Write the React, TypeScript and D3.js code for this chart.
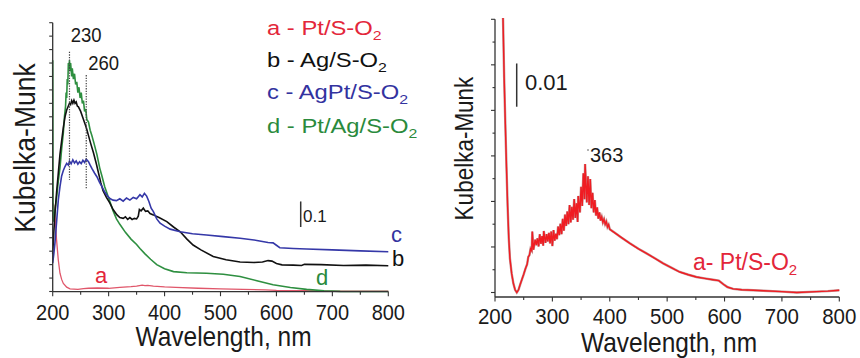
import React from "react";
import * as d3 from "d3";

type P = [number, number];

// ---------- Left panel data (Kubelka-Munk, a.u.) ----------
const seriesA: P[] = [
  [200, 0.33], [202, 0.32], [204, 0.28], [207, 0.19], [210, 0.117], [213, 0.068], [216, 0.045],
  [219, 0.03], [225, 0.016], [231, 0.01], [245, 0.008], [255, 0.011], [264, 0.012], [280, 0.013],
  [300, 0.012], [320, 0.015], [340, 0.018], [350, 0.02], [360, 0.024], [365, 0.022], [370, 0.023],
  [380, 0.02], [400, 0.017], [420, 0.015], [460, 0.012], [500, 0.01], [540, 0.008], [580, 0.006],
  [600, 0.004], [650, 0.003], [700, 0.001], [750, 0.001], [800, 0.001],
];

const seriesB: P[] = [
  [200, 0.14], [202, 0.22], [204, 0.29], [207, 0.37], [210, 0.44], [213, 0.51], [216, 0.56],
  [219, 0.61], [222, 0.65], [225, 0.675], [228, 0.69], [230, 0.7], [232, 0.695], [234, 0.71],
  [236, 0.7], [238, 0.712], [240, 0.7], [242, 0.705], [244, 0.69], [246, 0.687], [250, 0.67],
  [255, 0.64], [260, 0.61], [264, 0.58], [268, 0.55], [273, 0.515], [278, 0.475], [282, 0.44],
  [286, 0.405], [290, 0.375], [296, 0.35], [302, 0.33], [308, 0.305], [315, 0.285], [320, 0.275],
  [326, 0.272], [330, 0.278], [334, 0.268], [338, 0.275], [342, 0.268], [346, 0.272], [350, 0.27],
  [353, 0.28], [355, 0.305], [358, 0.3], [362, 0.31], [366, 0.298], [370, 0.3], [374, 0.29],
  [380, 0.285], [390, 0.275], [404, 0.26], [416, 0.24], [428, 0.222], [440, 0.195], [451, 0.173],
  [465, 0.155], [487, 0.13], [510, 0.118], [535, 0.11], [560, 0.108], [575, 0.11], [585, 0.115],
  [592, 0.113], [600, 0.104], [610, 0.099], [630, 0.098], [645, 0.097], [650, 0.101], [680, 0.1],
  [720, 0.097], [760, 0.098], [800, 0.096],
];

const seriesC: P[] = [
  [200, 0.105], [202, 0.14], [204, 0.18], [207, 0.26], [210, 0.34], [213, 0.39], [216, 0.43],
  [219, 0.45], [222, 0.465], [225, 0.477], [228, 0.47], [230, 0.485], [233, 0.475], [236, 0.49],
  [239, 0.478], [242, 0.486], [245, 0.474], [248, 0.483], [251, 0.476], [254, 0.488], [257, 0.48],
  [260, 0.492], [264, 0.483], [267, 0.47], [270, 0.458], [275, 0.44], [279, 0.427], [284, 0.405],
  [288, 0.39], [293, 0.37], [298, 0.355], [303, 0.345], [308, 0.34], [314, 0.338], [320, 0.345],
  [326, 0.336], [332, 0.348], [338, 0.34], [344, 0.35], [350, 0.345], [356, 0.36], [360, 0.352],
  [364, 0.365], [368, 0.355], [372, 0.335], [376, 0.31], [380, 0.297], [386, 0.27], [392, 0.254],
  [400, 0.243], [410, 0.232], [428, 0.222], [450, 0.215], [475, 0.21], [505, 0.204], [535, 0.198],
  [565, 0.19], [585, 0.182], [594, 0.181], [600, 0.172], [606, 0.163], [630, 0.16], [654, 0.158],
  [700, 0.155], [750, 0.151], [800, 0.148],
];

const seriesD: P[] = [
  [200, 0.86], [200.6, 0.3], [202, 0.26], [204, 0.3], [207, 0.35], [210, 0.41], [213, 0.46],
  [216, 0.53], [219, 0.59], [221, 0.65], [223, 0.69], [224, 0.74], [225, 0.72], [226, 0.79],
  [227, 0.77], [228, 0.85], [229, 0.83], [230, 0.86], [231, 0.82], [232, 0.85], [234, 0.8],
  [235, 0.83], [237, 0.79], [239, 0.81], [241, 0.77], [243, 0.78], [245, 0.74], [247, 0.76],
  [249, 0.72], [251, 0.74], [253, 0.7], [255, 0.71], [257, 0.67], [259, 0.68], [261, 0.64],
  [264, 0.63], [267, 0.6], [270, 0.58], [274, 0.55], [279, 0.51], [284, 0.46], [288, 0.43],
  [293, 0.39], [298, 0.36], [303, 0.33], [308, 0.3], [314, 0.27], [320, 0.25], [330, 0.22],
  [340, 0.195], [350, 0.175], [356, 0.16], [365, 0.14], [375, 0.12], [386, 0.1], [400, 0.085],
  [416, 0.074], [440, 0.07], [475, 0.068], [505, 0.064], [535, 0.056], [565, 0.04], [594, 0.025],
  [625, 0.015], [654, 0.008], [685, 0.003], [714, 0.0005], [730, 0], [800, 0],
];

// ---------- Right panel data (Pt/S-O2 magnified) ----------
const seriesRight: P[] = [
  [212, 0.07], [214, 0.06], [216, 0.047], [218, 0.037], [220, 0.0276], [222, 0.019], [224, 0.012],
  [226, 0.0075], [229, 0.0042], [232, 0.002], [235, 0.0006], [238, 0], [241, 0.0006], [244, 0.0018],
  [247, 0.0029], [250, 0.004], [253, 0.0052],
  [256, 0.0062], [258, 0.0078], [260, 0.0082], [262, 0.0096], [264, 0.0092], [265, 0.0134],
  [267, 0.0094], [270, 0.0116], [272, 0.0104], [274, 0.0119], [276, 0.0101], [278, 0.0128],
  [280, 0.0107], [282, 0.0124], [284, 0.0103], [285, 0.0135], [288, 0.0109], [290, 0.0128],
  [292, 0.0112], [294, 0.0131], [296, 0.0108], [298, 0.0134], [300, 0.0102], [302, 0.0137],
  [304, 0.0114], [306, 0.0129], [308, 0.0117], [310, 0.0145], [312, 0.0126], [314, 0.0151],
  [316, 0.0128], [318, 0.0162], [320, 0.0136], [322, 0.0171], [324, 0.0146], [326, 0.0178],
  [328, 0.015], [330, 0.0192], [332, 0.0154], [334, 0.0188], [336, 0.016], [338, 0.0205],
  [340, 0.0164], [342, 0.0196], [344, 0.0155], [345, 0.0212], [348, 0.0176], [350, 0.0232],
  [352, 0.019], [354, 0.0262], [356, 0.0205], [357, 0.0282], [360, 0.0198], [362, 0.0255],
  [364, 0.0192], [366, 0.0249], [368, 0.0185], [370, 0.0219], [372, 0.0176], [374, 0.0203],
  [376, 0.0169], [378, 0.0187], [380, 0.0162], [382, 0.0176], [384, 0.0158], [386, 0.0166],
  [388, 0.0154], [390, 0.0161], [392, 0.015], [394, 0.0156], [396, 0.0144], [398, 0.0149],
  [400, 0.0139], [410, 0.013], [420, 0.0121], [435, 0.0108], [450, 0.0096], [464, 0.0086],
  [480, 0.0074], [493, 0.0064], [508, 0.0054], [522, 0.0045], [537, 0.0039], [551, 0.0034],
  [565, 0.0031], [580, 0.0028], [590, 0.0026], [598, 0.0018], [605, 0.0012], [615, 0.0008],
  [630, 0.0006], [650, 0.0005], [668, 0.0004], [700, 0.0002], [726, 0], [760, 0.0002],
  [780, 0.0003], [800, 0.0005],
];

// ---------- Labels ----------
const legendItems = [
  { letter: "a", name: "Pt/S-O", color: "#e3263a" },
  { letter: "b", name: "Ag/S-O", color: "#111111" },
  { letter: "c", name: "AgPt/S-O", color: "#33339f" },
  { letter: "d", name: "Pt/Ag/S-O", color: "#2a8a3c" },
];
const legendBaselines = [35, 66.5, 99, 133];
const peakMarks: P[] = [
  [230, 0.892],
  [260, 0.805],
];
const peakBottoms = [0.415, 0.384];
const rightPeakLabel = "363";
const xTitle = "Wavelength, nm";
const yTitle = "Kubelka-Munk";

const FONT = "'Liberation Sans', Arial, sans-serif";

const Txt = (p: {
  x: number; y: number; size: number; sx?: number; sy?: number; fill?: string;
  anchor?: string; rotate?: number; children: React.ReactNode;
}) => (
  <text
    transform={`translate(${p.x},${p.y}) rotate(${p.rotate ?? 0}) scale(${p.sx ?? 1},${p.sy ?? 1})`}
    fontSize={p.size}
    fontFamily={FONT}
    fill={p.fill ?? "#1a1a1a"}
    textAnchor={p.anchor ?? "start"}
  >
    {p.children}
  </text>
);

export default function App() {
  // Left panel scales
  const xL = d3.scaleLinear().domain([200, 800]).range([52.7, 388.3]);
  const yL = d3.scaleLinear().domain([0, 1]).range([291.5, 22.7]);
  // Right panel scales
  const xR = d3.scaleLinear().domain([200, 800]).range([495, 839.3]);
  const yR = d3.scaleLinear().domain([0, 0.06]).range([292.5, 19.3]);

  const lineL = d3.line<P>().x((d) => xL(d[0])).y((d) => yL(d[1]));
  const lineR = d3.line<P>().x((d) => xR(d[0])).y((d) => yR(d[1]));

  const axisColor = "#333";
  const leftXAxisY = 291.7;
  const rightXAxisY = 297;

  const xTicksL = xL.ticks(12);
  const yTicksL = yL.ticks(20);
  const xTicksR = xR.ticks(12);
  const yTicksR = yR.ticks(12);

  const isMajor100 = (v: number) => Math.abs(v % 100) < 1e-6;

  return (
    <svg
      width={860}
      height={358}
      style={{ position: "absolute", left: 0, top: 0, background: "#fff" }}
    >
      <defs>
        <clipPath id="clipR">
          <rect x={495} y={18} width={346} height={280} />
        </clipPath>
      </defs>
      <rect width={860} height={358} fill="#fff" />

      {/* ================= LEFT PANEL ================= */}
      <path d={lineL(seriesA) ?? ""} fill="none" stroke="#e0566a" strokeWidth={1.3} />
      <path d={lineL(seriesD) ?? ""} fill="none" stroke="#2e8f40" strokeWidth={1.6} />
      <path d={lineL(seriesB) ?? ""} fill="none" stroke="#111" strokeWidth={1.6} />
      <path d={lineL(seriesC) ?? ""} fill="none" stroke="#3538a8" strokeWidth={1.6} />

      {peakMarks.map((m, i) => (
        <line
          key={i}
          x1={xL(m[0])}
          x2={xL(m[0])}
          y1={yL(m[1])}
          y2={yL(peakBottoms[i])}
          stroke="#444"
          strokeWidth={1.2}
          strokeDasharray="1.3,1.3"
        />
      ))}

      <line x1={xL(200)} x2={xL(200)} y1={22.7} y2={leftXAxisY} stroke={axisColor} strokeWidth={1.3} />
      <line x1={xL(200)} x2={xL(800)} y1={leftXAxisY} y2={leftXAxisY} stroke={axisColor} strokeWidth={1.3} />
      {yTicksL.map((t) => (
        <line key={"yl" + t} x1={xL(200) - 3.5} x2={xL(200)} y1={yL(t)} y2={yL(t)} stroke={axisColor} strokeWidth={1.1} />
      ))}
      {xTicksL.map((t) => (
        <line
          key={"xl" + t}
          x1={xL(t)}
          x2={xL(t)}
          y1={leftXAxisY}
          y2={leftXAxisY + (isMajor100(t) ? 4.5 : 3)}
          stroke={axisColor}
          strokeWidth={1.1}
        />
      ))}
      {xTicksL.filter(isMajor100).map((t) => (
        <Txt key={"xlt" + t} x={xL(t)} y={320} size={20} sy={1.12} anchor="middle">
          {t}
        </Txt>
      ))}
      <Txt x={223.5} y={346} size={24.5} anchor="middle" sy={1.1}>
        {xTitle}
      </Txt>
      <Txt x={35} y={148} size={26.5} sy={1.12} anchor="middle" rotate={-90}>
        {yTitle}
      </Txt>

      <Txt x={70.7} y={41.7} size={18.5} sy={1.05}>
        {String(peakMarks[0][0])}
      </Txt>
      <Txt x={88.3} y={70} size={18.5} sy={1.05}>
        {String(peakMarks[1][0])}
      </Txt>

      <line x1={300.7} x2={300.7} y1={yL(0.24)} y2={yL(0.335)} stroke="#333" strokeWidth={1.5} />
      <Txt x={303} y={222} size={17}>
        0.1
      </Txt>

      <Txt x={391} y={242} size={22} fill="#33339f">c</Txt>
      <Txt x={392} y={266} size={22} fill="#111">b</Txt>
      <Txt x={316} y={285} size={22} fill="#2a8a3c">d</Txt>
      <Txt x={95} y={283} size={22} fill="#e3263a">a</Txt>

      {legendItems.map((it, i) => (
        <text
          key={it.letter}
          transform={`translate(267,${legendBaselines[i]}) scale(1.22,1)`}
          fontSize={19.5}
          fontFamily={FONT}
          fill={it.color}
        >
          {it.letter} - {it.name}
          <tspan fontSize={13} dy={5}>2</tspan>
        </text>
      ))}

      {/* ================= RIGHT PANEL ================= */}
      <g clipPath="url(#clipR)">
        <path d={lineR(seriesRight) ?? ""} fill="none" stroke="#8a2a2a" strokeWidth={2.4} opacity={0.5} />
        <path d={lineR(seriesRight) ?? ""} fill="none" stroke="#f01c22" strokeWidth={1.4} />
      </g>

      <line x1={xR(200)} x2={xR(200)} y1={19.3} y2={rightXAxisY} stroke={axisColor} strokeWidth={1.3} />
      <line x1={xR(200)} x2={xR(800)} y1={rightXAxisY} y2={rightXAxisY} stroke={axisColor} strokeWidth={1.3} />
      {yTicksR.map((t) => {
        const major = Math.abs(t * 100 - Math.round(t * 100)) < 1e-6;
        return (
          <line key={"yr" + t} x1={xR(200) - (major ? 4 : 2.5)} x2={xR(200)} y1={yR(t)} y2={yR(t)} stroke={axisColor} strokeWidth={1.1} />
        );
      })}
      {xTicksR.map((t) => (
        <line
          key={"xr" + t}
          x1={xR(t)}
          x2={xR(t)}
          y1={rightXAxisY}
          y2={rightXAxisY + (isMajor100(t) ? 4.5 : 3)}
          stroke={axisColor}
          strokeWidth={1.1}
        />
      ))}
      {xTicksR.filter(isMajor100).map((t) => (
        <Txt key={"xrt" + t} x={xR(t)} y={324} size={20.5} sy={1.1} anchor="middle">
          {t}
        </Txt>
      ))}
      <Txt x={669} y={352} size={24.5} anchor="middle" sy={1.1}>
        {xTitle}
      </Txt>
      <Txt x={473} y={148.5} size={22.5} sy={1.12} anchor="middle" rotate={-90}>
        {yTitle}
      </Txt>

      <line x1={516.7} x2={516.7} y1={yR(0.0408)} y2={yR(0.0503)} stroke="#333" strokeWidth={1.5} />
      <Txt x={525} y={90} size={22}>
        0.01
      </Txt>

      <circle cx={588} cy={150} r={0.8} fill="#555" />
      <Txt x={590} y={162} size={20}>
        {rightPeakLabel}
      </Txt>

      <text x={693} y={270} fontSize={23} fontFamily={FONT} fill="#e3263a">
        a- Pt/S-O
        <tspan fontSize={15} dy={5}>2</tspan>
      </text>
    </svg>
  );
}
